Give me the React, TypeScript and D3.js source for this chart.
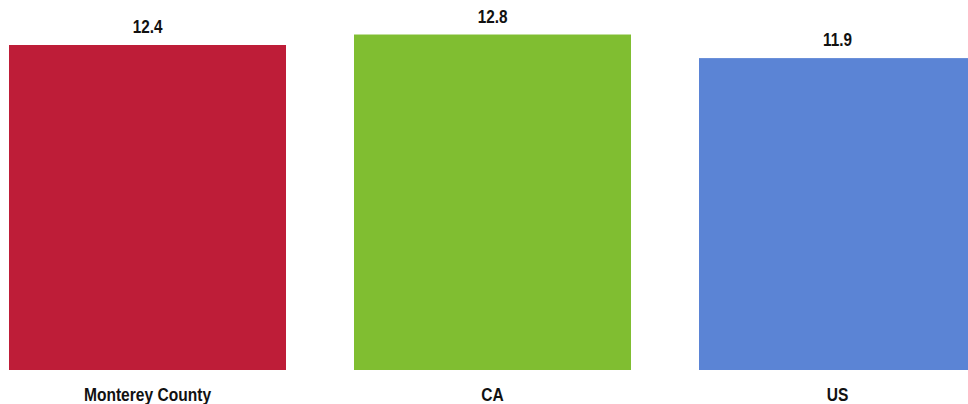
import React from "react";
import * as d3 from "d3";

const categories = ["Monterey County", "CA", "US"];
const values = [12.4, 12.8, 11.9];
const colors = ["#BE1D38", "#80BE31", "#5B84D5"];

const W = 968;
const H = 404;

export default function App() {
  const x = d3
    .scaleBand<string>()
    .domain(categories)
    .range([-25, 1010])
    .paddingInner(68 / 345)
    .paddingOuter(34 / 345);
  const y = d3.scaleLinear().domain([0, 12.4]).range([370, 45]);
  const font = "'Liberation Sans', Arial, sans-serif";
  return (
    <svg
      width={W}
      height={H}
      style={{ position: "absolute", left: 0, top: 0 }}
    >
      <rect width={W} height={H} fill="#fff" />
      {categories.map((c, i) => {
        const bx = x(c)!;
        const bw = x.bandwidth();
        const cx = bx + bw / 2;
        return (
          <g key={c}>
            <rect
              x={bx}
              y={y(values[i])}
              width={bw}
              height={y(0) - y(values[i])}
              fill={colors[i]}
            />
            <text
              transform={`translate(${cx},${y(values[i]) - 11.7}) scale(0.85,1)`}
              textAnchor="middle"
              fontFamily={font}
              fontWeight="bold"
              fontSize={18}
              fill="#111"
            >
              {values[i].toFixed(1)}
            </text>
            <text
              transform={`translate(${cx},400.5) scale(0.82,1)`}
              textAnchor="middle"
              fontFamily={font}
              fontWeight="bold"
              fontSize={19}
              fill="#111"
            >
              {c}
            </text>
          </g>
        );
      })}
    </svg>
  );
}
